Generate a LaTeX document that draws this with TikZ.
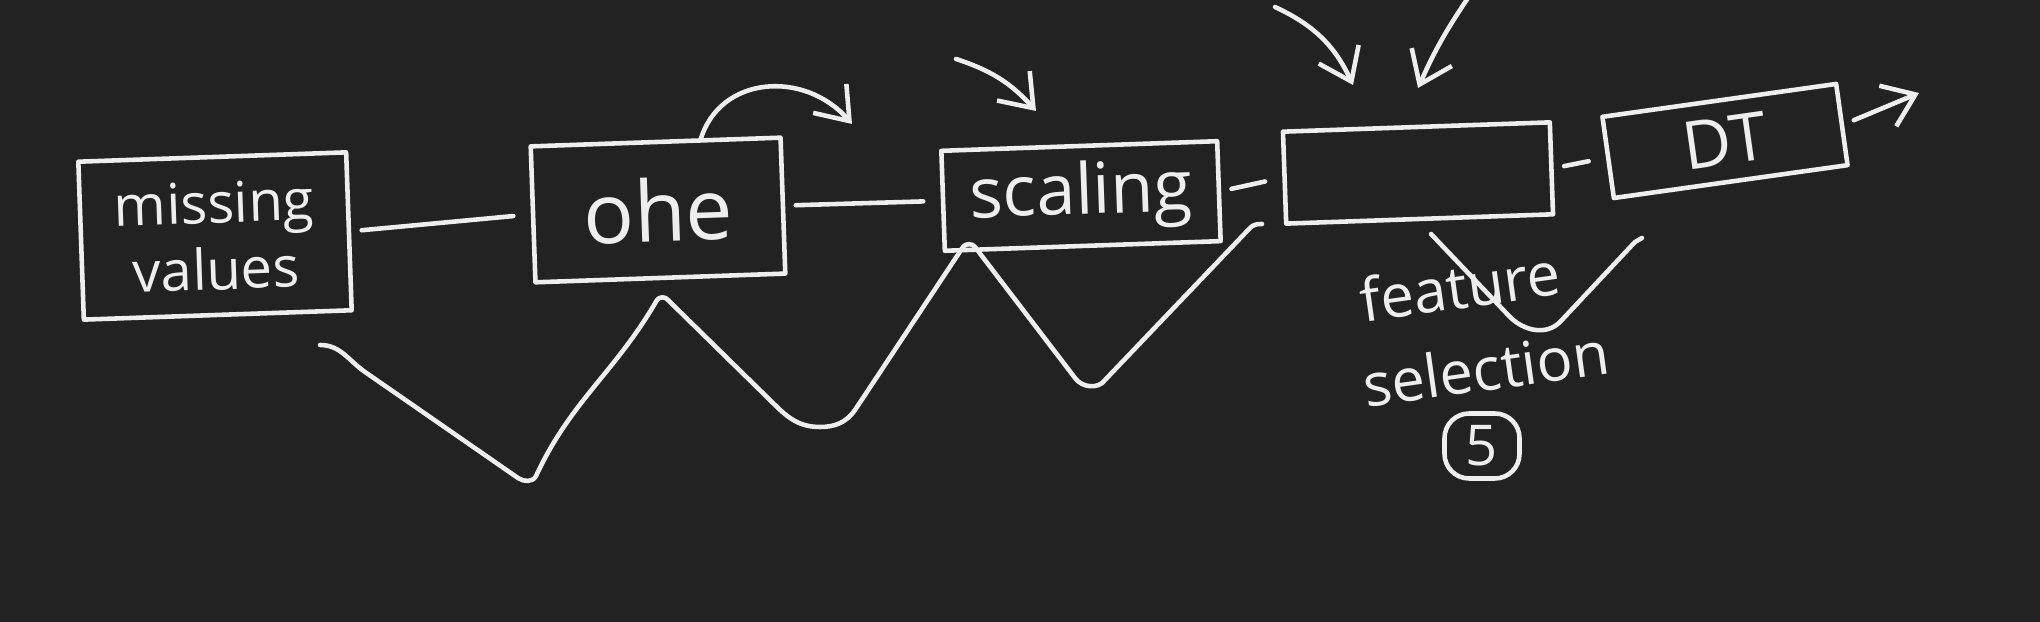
\documentclass[tikz,border=0pt]{standalone}
\usepackage{fontspec}
\setmainfont{Open Sans}
\usetikzlibrary{arrows.meta}
\definecolor{board}{RGB}{34,34,34}
\definecolor{chalk}{RGB}{238,238,238}

\begin{document}
\begin{tikzpicture}[
  hand/.style={draw=chalk, line width=1.3pt, line cap=round, line join=round},
  box/.style={hand, text=chalk, align=center, inner sep=2pt},
  link/.style={hand, shorten <=3pt, shorten >=5pt},
  pointer/.style={hand, -{Straight Barb[length=3mm,width=4.4mm]}},
  note/.style={text=chalk, align=center}
]
  \fill[board] (0,0) rectangle (20.40,-6.22);
  \useasboundingbox (0,0) rectangle (20.40,-6.22);

  % pipeline steps
  \node[box, minimum width=2.68cm, minimum height=1.58cm, rotate=2, font=\fontsize{16}{19}\selectfont] (missing) at (2.15,-2.36) {missing\\values};
  \node[box, minimum width=2.5cm, minimum height=1.36cm, rotate=2, font=\fontsize{24}{24}\selectfont] (ohe) at (6.58,-2.10) {ohe};
  \node[box, minimum width=2.76cm, minimum height=1.0cm, rotate=2, font=\fontsize{20}{20}\selectfont] (scaling) at (10.81,-1.96) {scaling};
  \node[box, minimum width=2.67cm, minimum height=0.92cm, rotate=2] (select) at (14.18,-1.73) {};
  \node[box, minimum width=2.36cm, minimum height=0.82cm, rotate=8, font=\fontsize{19}{19}\selectfont] (dt) at (17.25,-1.41) {DT};

  \node[note, rotate=8, font=\fontsize{17}{17}\selectfont] (fsname) at (14.60,-2.86) {feature};
  \node[note, rotate=8, font=\fontsize{17}{17}\selectfont] (fsword) at (14.86,-3.68) {selection};
  \node[box, rounded corners=7pt, minimum width=0.75cm, minimum height=0.65cm, font=\fontsize{16}{16}\selectfont] (fsnum) at (14.82,-4.46) {5};

  \draw[link] (missing.east) -- (ohe.west);
  \draw[link] (ohe.east) -- (scaling.west);
  \draw[link] (scaling.east) -- (select.west);
  \draw[link] (select.east) -- (dt.west);

  % free arrow ends
  \coordinate (out) at (19.19,-0.93);
  \coordinate (hop) at (8.52,-1.24);
  \coordinate (sa) at (9.56,-0.59);
  \coordinate (sb) at (10.36,-1.11);
  \coordinate (fa) at (12.75,-0.07);
  \coordinate (fb) at (13.53,-0.85);
  \coordinate (fc) at (14.68,0.02);
  \coordinate (fd) at (14.18,-0.88);

  \draw[pointer, shorten <=3pt] (dt.east) -- (out);
  \draw[pointer] ([xshift=0.45cm]ohe.north) .. controls (7.20,-0.75) and (8.05,-0.70) .. (hop);
  \draw[pointer] (sa) to[bend left=15] (sb);
  \draw[pointer] (fa) to[bend left=20] (fb);
  \draw[pointer] (fc) to[bend right=5] (fd);

  % wave under the steps
  \draw[hand] (3.20,-3.45) to[out=0,in=145] (3.65,-3.72) -- (5.18,-4.78) to[out=-35,in=-115] (5.36,-4.76)
    to[out=65,in=-120] (6.57,-3.00) to[out=55,in=125] (6.68,-3.00) -- (7.75,-4.05) to[out=-45,in=180] (8.20,-4.27)
    to[out=0,in=-125] (8.55,-4.10) -- (9.63,-2.47) to[out=55,in=125] (9.75,-2.47) -- (10.75,-3.78)
    to[out=-55,in=-125] (11.05,-3.80) -- (12.50,-2.28) to[out=45,in=180] (12.62,-2.24);
  \draw[hand] (14.31,-2.34) -- (15.10,-3.17) to[out=-45,in=-135] (15.60,-3.22) -- (16.35,-2.42) -- (16.42,-2.38);
\end{tikzpicture}
\end{document}
